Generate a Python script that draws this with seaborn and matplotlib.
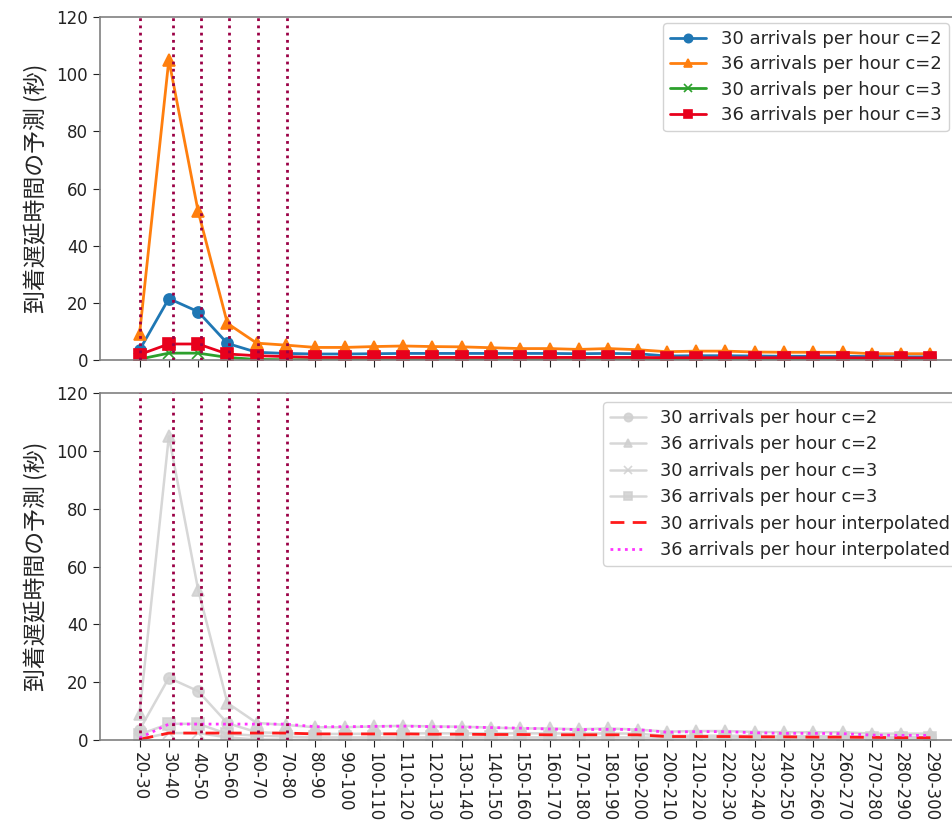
import numpy as np
import pandas as pd
import matplotlib
matplotlib.use("Agg")
import matplotlib.pyplot as plt
import seaborn as sns

sns.set_style("ticks")
plt.rcParams["font.family"] = ["DejaVu Sans", "Noto Sans CJK JP"]

# Delay bins (minutes)
bins = ["20-30", "30-40", "40-50", "50-60", "60-70", "70-80", "80-90", "90-100",
        "100-110", "110-120", "120-130", "130-140", "140-150", "150-160",
        "160-170", "170-180", "180-190", "190-200", "200-210", "210-220",
        "220-230", "230-240", "240-250", "250-260", "260-270", "270-280",
        "280-290", "290-300"]

# Predicted arrival delay (seconds)
arr30_c2 = [3.5, 21.5, 16.9, 5.8, 2.7, 2.3, 2.1, 2.1, 2.2, 2.3, 2.3, 2.3, 2.3, 2.3,
            2.3, 2.2, 2.3, 2.2, 1.4, 1.5, 1.5, 1.4, 1.3, 1.3, 1.3, 1.2, 1.1, 1.1]
arr36_c2 = [9.1, 105.0, 52.0, 12.8, 5.9, 5.2, 4.4, 4.4, 4.7, 4.9, 4.7, 4.6, 4.3, 4.0,
            4.0, 3.7, 4.0, 3.6, 2.9, 3.1, 3.1, 2.8, 2.7, 2.7, 2.7, 2.2, 2.2, 2.2]
arr30_c3 = [0.3, 2.4, 2.4, 0.9, 0.2, 0.1, 0.1, 0.1, 0.1, 0.1, 0.1, 0.1, 0.1, 0.1,
            0.1, 0.1, 0.1, 0.1, 0.1, 0.1, 0.1, 0.1, 0.1, 0.1, 0.1, 0.1, 0.1, 0.1]
arr36_c3 = [1.9, 5.6, 5.6, 2.1, 1.5, 1.2, 0.9, 0.9, 0.9, 0.9, 0.9, 0.9, 0.9, 0.9,
            0.9, 0.9, 0.9, 0.9, 0.8, 0.8, 0.8, 0.8, 0.8, 0.8, 0.8, 0.7, 0.7, 0.7]
interp30 = [0.2, 2.4, 2.4, 2.4, 2.4, 2.4, 2.1, 2.1, 2.1, 2.1, 2.0, 2.0, 1.9, 1.9,
            1.8, 1.8, 1.8, 1.8, 1.2, 1.2, 1.2, 1.1, 1.1, 1.0, 1.0, 0.9, 0.8, 0.8]
interp36 = [0.7, 5.5, 5.5, 5.5, 5.5, 5.5, 4.6, 4.6, 4.7, 4.8, 4.6, 4.5, 4.3, 4.1,
            3.8, 3.6, 3.7, 3.6, 2.7, 2.9, 2.9, 2.5, 2.3, 2.3, 2.2, 1.7, 1.6, 1.6]

# Boundaries of the congested period, in bin-index units
boundaries = [0.0, 1.15, 2.1, 3.07, 4.03, 5.05]

series_labels = ["30 arrivals per hour c=2", "36 arrivals per hour c=2",
                 "30 arrivals per hour c=3", "36 arrivals per hour c=3"]
interp_labels = ["30 arrivals per hour interpolated",
                 "36 arrivals per hour interpolated"]

pos = np.arange(len(bins))
df = pd.DataFrame({"pos": pos, "a30c2": arr30_c2, "a36c2": arr36_c2,
                   "a30c3": arr30_c3, "a36c3": arr36_c3,
                   "i30": interp30, "i36": interp36})

colors = ["#1f77b4", "#ff7f0e", "#2ca02c", "#e8001c"]
markers = ["o", "^", "x", "s"]
cols = ["a30c2", "a36c2", "a30c3", "a36c3"]

W, H = 952, 823
fig = plt.figure(figsize=(W / 100, H / 100), dpi=100)
ax1 = fig.add_axes([100 / W, 1 - 360 / H, 870 / W, 343 / H])
ax2 = fig.add_axes([100 / W, 1 - 740 / H, 870 / W, 347 / H], sharex=ax1)

for col, lab, c, m in zip(cols, series_labels, colors, markers):
    sns.lineplot(data=df, x="pos", y=col, ax=ax1, color=c, marker=m,
                 markersize=8, markeredgecolor=c, markeredgewidth=1.2,
                 linewidth=2, label=lab)
    sns.lineplot(data=df, x="pos", y=col, ax=ax2, color="#d0d0d0", marker=m,
                 markersize=8, markeredgecolor="#d0d0d0", markeredgewidth=1.2,
                 linewidth=1.8, alpha=0.85, label=lab)

sns.lineplot(data=df, x="pos", y="i30", ax=ax2, color="#ff1a1a",
             linestyle=(0, (5, 3)), linewidth=2, label=interp_labels[0])
sns.lineplot(data=df, x="pos", y="i36", ax=ax2, color="#ff33ff",
             linestyle=(0, (1, 1.6)), linewidth=2, label=interp_labels[1])

for ax in (ax1, ax2):
    for b in boundaries:
        ax.axvline(b, color="#9b0045", linestyle=(0, (1, 1.6)), linewidth=2,
                   zorder=3)
    ax.set_ylim(0, 120)
    ax.set_yticks(range(0, 121, 20))
    ax.set_xlim(-1.35, len(bins) - 1 + 1.35)
    ax.set_ylabel("到着遅延時間の予測 (秒)", fontsize=16.5,
                  family=["Noto Sans CJK JP", "DejaVu Sans"], labelpad=6)
    ax.set_xlabel("")
    ax.tick_params(labelsize=12, colors="#222222", length=5)
    for s in ax.spines.values():
        s.set_color("#808080")
        s.set_linewidth(1.2)

ax1.legend(loc="upper left", bbox_to_anchor=(663 / W, 1 - 23 / H),
           bbox_transform=fig.transFigure, borderaxespad=0, fontsize=13,
           frameon=True, framealpha=0.85, edgecolor="#cccccc",
           labelspacing=0.4, handlelength=2, markerscale=0.75)
ax2.legend(loc="upper left", bbox_to_anchor=(603 / W, 1 - 402 / H),
           bbox_transform=fig.transFigure, borderaxespad=0, fontsize=12.8,
           frameon=True, framealpha=0.85, edgecolor="#cccccc",
           labelspacing=0.47, handlelength=2, markerscale=0.75)

ax2.set_xticks(pos)
ax2.set_xticklabels(bins, rotation=-90)
plt.setp(ax1.get_xticklabels(), visible=False)

fig.savefig("out.png", dpi=100)
